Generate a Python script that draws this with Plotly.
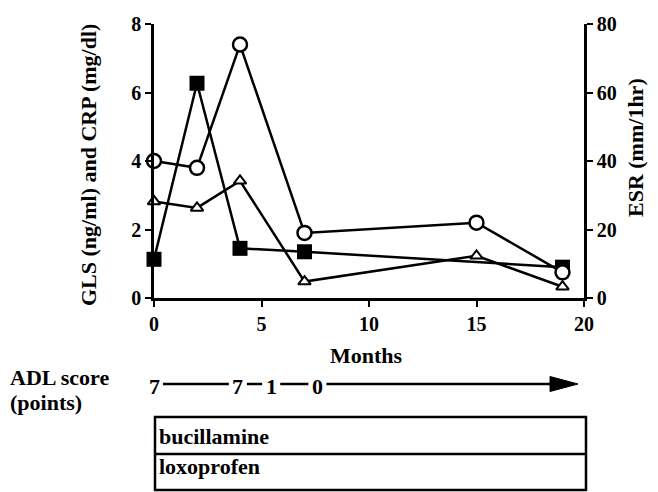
import plotly.graph_objects as go

# ---- data ----
months_sq = [0, 2, 4, 7, 19]
gls_sq = [1.13, 6.27, 1.45, 1.35, 0.9]

months_tri = [0, 2, 4, 7, 15, 19]
crp_tri = [2.82, 2.63, 3.42, 0.48, 1.23, 0.33]

months_circ = [0, 2, 4, 7, 15, 19]
esr_circ = [40, 38, 74, 19, 22, 7.5]

adl_months = [0, 3.9, 5.45, 7.6]
adl_scores = ["7", "7", "1", "0"]
drugs = ["bucillamine", "loxoprofen"]

xticks = [0, 5, 10, 15, 20]
yticks = [0, 2, 4, 6, 8]
y2ticks = [0, 20, 40, 60, 80]

# ---- geometry (pixels) ----
W, H = 658, 492
PL, PR, PT, PB = 154, 584, 24, 298


def px(x):
    return (x - PL) / (PR - PL)


def py(y):
    return (PB - y) / (PB - PT)


FONT = "Liberation Serif"
TICKF = dict(family=FONT, size=20, color="black", weight="bold")
TITF = dict(family=FONT, size=22, color="black", weight="bold")

fig = go.Figure()
fig.add_trace(go.Scatter(
    x=months_sq, y=gls_sq, mode="lines+markers", name="GLS",
    line=dict(color="black", width=2.5),
    marker=dict(symbol="square", size=15, color="black"),
    cliponaxis=False))
fig.add_trace(go.Scatter(
    x=months_tri, y=crp_tri, mode="lines+markers", name="CRP",
    line=dict(color="black", width=2.5),
    marker=dict(symbol="triangle-up", size=11, color="white",
                line=dict(color="black", width=2)),
    cliponaxis=False))
fig.add_trace(go.Scatter(
    x=months_circ, y=esr_circ, mode="lines+markers", name="ESR", yaxis="y2",
    line=dict(color="black", width=2.5),
    marker=dict(symbol="circle", size=14, color="white",
                line=dict(color="black", width=2.5)),
    cliponaxis=False))

axis_common = dict(showline=True, linecolor="black", linewidth=2.5,
                   ticks="outside", ticklen=6, tickwidth=2, tickcolor="black",
                   showgrid=False, zeroline=False, tickfont=TICKF)

fig.update_layout(
    width=W, height=H,
    margin=dict(l=PL, r=W - PR, t=PT, b=H - PB),
    paper_bgcolor="white", plot_bgcolor="white",
    showlegend=False,
    xaxis=dict(range=[0, 20], tickvals=xticks, **axis_common),
    yaxis=dict(range=[0, 8], tickvals=yticks, **axis_common),
    yaxis2=dict(range=[0, 80], tickvals=y2ticks, overlaying="y", side="right",
                **axis_common),
)

ann = []
ann.append(dict(text="GLS (ng/ml) and CRP (mg/dl)", textangle=-90,
                xref="paper", yref="paper", x=px(88), y=py(165),
                showarrow=False, font=TITF, xanchor="center", yanchor="middle"))
ann.append(dict(text="ESR (mm/1hr)", textangle=-90,
                xref="paper", yref="paper", x=px(635), y=py(148),
                showarrow=False, font=TITF, xanchor="center", yanchor="middle"))
ann.append(dict(text="Months", xref="paper", yref="paper", x=px(366), y=py(355),
                showarrow=False, font=TITF, xanchor="center", yanchor="middle"))
ann.append(dict(text="ADL score", xref="paper", yref="paper", x=px(8), y=py(377),
                showarrow=False, font=TITF, xanchor="left", yanchor="middle"))
ann.append(dict(text="(points)", xref="paper", yref="paper", x=px(8), y=py(402),
                showarrow=False, font=TITF, xanchor="left", yanchor="middle"))
for m, s in zip(adl_months, adl_scores):
    ann.append(dict(text=s, xref="x", yref="paper", x=m, y=py(386),
                    showarrow=False, font=TITF, xanchor="center", yanchor="middle"))
for i, d in enumerate(drugs):
    ann.append(dict(text=d, xref="paper", yref="paper", x=px(157),
                    y=py([437, 467][i]), showarrow=False, font=TITF,
                    xanchor="left", yanchor="middle"))
fig.update_layout(annotations=ann)

shapes = []
gap = 0.42
y_ar = py(384)
for a, b in zip(adl_months[:-1], adl_months[1:]):
    shapes.append(dict(type="line", xref="x", yref="paper",
                       x0=a + gap, x1=b - gap, y0=y_ar, y1=y_ar,
                       line=dict(color="black", width=2.5)))
x_head0 = (550 - PL) / (PR - PL) * 20
shapes.append(dict(type="line", xref="x", yref="paper",
                   x0=adl_months[-1] + gap, x1=x_head0, y0=y_ar, y1=y_ar,
                   line=dict(color="black", width=2.5)))
shapes.append(dict(type="path", xref="paper", yref="paper",
                   path=f"M {px(550)} {py(376.5)} L {px(578)} {py(384)} L {px(550)} {py(391.5)} Z",
                   fillcolor="black", line=dict(color="black", width=1)))
# drug box
shapes.append(dict(type="rect", xref="paper", yref="paper",
                   x0=px(155), x1=px(586), y0=py(417), y1=py(490),
                   line=dict(color="black", width=2.5)))
shapes.append(dict(type="line", xref="paper", yref="paper",
                   x0=px(155), x1=px(586), y0=py(454), y1=py(454),
                   line=dict(color="black", width=2.5)))
fig.update_layout(shapes=shapes)

fig.write_html("out.html")
